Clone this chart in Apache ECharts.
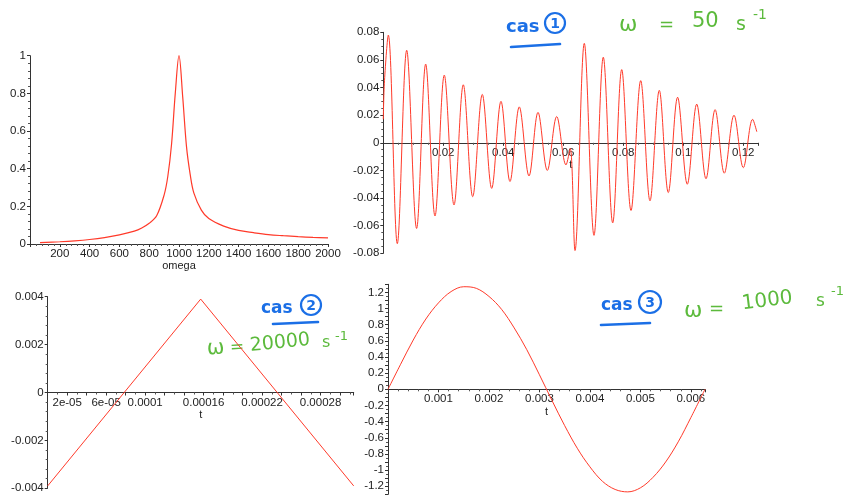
<!DOCTYPE html>
<html>
<head>
<meta charset="utf-8">
<script src="https://cdn.jsdelivr.net/npm/echarts@6/dist/echarts.min.js"></script>
<style>
  html, body { margin: 0; padding: 0; background: #fff; }
  #chart { width: 854px; height: 499px; }
</style>
</head>
<body>
<div id="chart"></div>
<script>
// resonance curve (top left)
const omega = [67, 200, 300, 400, 500, 600, 700, 750, 800, 850, 900, 925, 950, 975, 1000,
  1025, 1050, 1075, 1100, 1150, 1200, 1300, 1400, 1500, 1600, 1700, 1800, 1900, 2000];
const ampl = [0.007, 0.012, 0.017, 0.024, 0.034, 0.048, 0.068, 0.085, 0.11, 0.15, 0.26, 0.36, 0.53, 0.8, 1.0,
  0.78, 0.52, 0.37, 0.27, 0.18, 0.135, 0.095, 0.072, 0.06, 0.05, 0.044, 0.039, 0.035, 0.032];

// cas 1 : w = 50 s-1 (peaks and troughs)
const cas1T = [0, 0.0004, 0.00167, 0.00467, 0.0078, 0.0111, 0.01413, 0.01723, 0.02033, 0.02357,
  0.02667, 0.0298, 0.033, 0.03613, 0.03923, 0.04223, 0.04533, 0.04857, 0.05157, 0.05467,
  0.0578, 0.0609, 0.0623, 0.0639, 0.067, 0.07023, 0.07333, 0.07647, 0.07947, 0.08257,
  0.0858, 0.0889, 0.092, 0.095, 0.0981, 0.10133, 0.10447, 0.10757, 0.1106, 0.11367,
  0.1169, 0.12, 0.1231, 0.1245];
const cas1X = [0.017, 0.045, 0.078, -0.073, 0.067, -0.062, 0.057, -0.053, 0.049, -0.045,
  0.042, -0.039, 0.035, -0.033, 0.030, -0.028, 0.026, -0.024, 0.022, -0.020,
  0.019, -0.016, -0.004, -0.078, 0.072, -0.067, 0.062, -0.058, 0.053, -0.049,
  0.045, -0.042, 0.038, -0.036, 0.033, -0.030, 0.028, -0.026, 0.024, -0.022,
  0.020, -0.018, 0.017, 0.008];

// cas 2 : w = 20000 s-1
const cas2T = [0, 0.000157, 0.000314];
const cas2X = [-0.0039, 0.0039, -0.0039];
const cas2TickVals = [2e-5, 6e-5, 1e-4, 1.6e-4, 2.2e-4, 2.8e-4];
const cas2TickText = ['2e-05', '6e-05', '0.0001', '0.00016', '0.00022', '0.00028'];

// cas 3 : w = 1000 s-1
const cas3T = [0, 0.00025, 0.0005, 0.00075, 0.001, 0.00125, 0.0015, 0.00175, 0.002, 0.00225,
  0.0025, 0.00275, 0.003, 0.00325, 0.0035, 0.00375, 0.004, 0.00425, 0.0045, 0.00475,
  0.005, 0.00525, 0.0055, 0.00575, 0.006, 0.00628];
const cas3X = [0, 0.31, 0.61, 0.87, 1.07, 1.21, 1.27, 1.25, 1.15, 0.99,
  0.76, 0.49, 0.18, -0.14, -0.45, -0.73, -0.96, -1.14, -1.24, -1.27,
  -1.22, -1.09, -0.9, -0.65, -0.35, 0];

const zip = (a, b) => a.map((v, i) => [v, b[i]]);

const red = '#ff3a2a';
const blue = '#1b6fe6';
const green = '#5cba3c';
const txt = '#222';
const font = 'Liberation Sans';

// only label multiples of step, skip the origin
function stepLabels(step) {
  return function (v) {
    const k = v / step;
    const r = Math.round(k);
    if (r === 0 || Math.abs(k - r) > 1e-6) return '';
    return String(parseFloat((r * step).toPrecision(6)));
  };
}

// the x axis sits on y = 0, lift it from the grid bottom by "lift" px
function xAxisOf(grid, min, max, interval, name, nameGap, formatter, minorSplit, lift) {
  return {
    type: 'value', gridIndex: grid, min: min, max: max, interval: interval,
    position: 'bottom', offset: -lift,
    name: name, nameLocation: 'middle', nameGap: nameGap,
    nameTextStyle: { color: txt, fontFamily: font, fontSize: 11 },
    axisLine: { onZero: false, lineStyle: { color: '#333', width: 1 } },
    axisTick: { show: true, length: 3, lineStyle: { color: '#333' } },
    minorTick: { show: true, splitNumber: minorSplit, length: 2, lineStyle: { color: '#555' } },
    splitLine: { show: false },
    axisLabel: { color: txt, fontFamily: font, fontSize: 11.5, margin: 4, formatter: formatter }
  };
}

function yAxisOf(grid, min, max, interval, formatter, minorSplit) {
  return {
    type: 'value', gridIndex: grid, min: min, max: max, interval: interval,
    axisLine: { show: true, onZero: false, lineStyle: { color: '#333', width: 1 } },
    axisTick: { show: true, length: 3, lineStyle: { color: '#333' } },
    minorTick: { show: true, splitNumber: minorSplit, length: 2, lineStyle: { color: '#555' } },
    splitLine: { show: false },
    axisLabel: { color: txt, fontFamily: font, fontSize: 11.5, margin: 4, formatter: formatter }
  };
}

function cas2Label(v) {
  for (let i = 0; i < cas2TickVals.length; i++) {
    if (Math.abs(v - cas2TickVals[i]) < 1e-9) return cas2TickText[i];
  }
  return '';
}

function cas3YLabel(v) {
  const k = Math.round(v * 10);
  if (k % 2 !== 0) return '';
  return String(k / 10);
}

function lineSeries(x, y, data, width, smooth) {
  return {
    type: 'line', xAxisIndex: x, yAxisIndex: y, data: data,
    showSymbol: false, smooth: smooth, animation: false,
    lineStyle: { color: red, width: width }
  };
}

// handwritten notes
function note(text, x, y, size, color, rot, weight) {
  return {
    type: 'text', x: x, y: y, rotation: rot || 0,
    style: { text: text, fill: color, font: (weight || 'normal') + ' ' + size + 'px "DejaVu Sans"', textVerticalAlign: 'middle' }
  };
}
function circled(d, cx, cy, r) {
  return [
    { type: 'circle', shape: { cx: cx, cy: cy, r: r }, style: { fill: 'none', stroke: blue, lineWidth: 2.2 } },
    { type: 'text', x: cx, y: cy + 1, style: { text: d, fill: blue, font: 'bold 14px "DejaVu Sans"', textAlign: 'center', textVerticalAlign: 'middle' } }
  ];
}
function stroke(x1, y1, x2, y2) {
  return { type: 'line', shape: { x1: x1, y1: y1, x2: x2, y2: y2 }, style: { stroke: blue, lineWidth: 2.6, lineCap: 'round' } };
}

const graphic = [
  // cas 1
  note('cas', 506, 27, 18, blue, 0, 'bold'),
  ...circled('1', 555, 23, 10),
  stroke(511, 47, 560, 44),
  note('ω', 619, 25, 22, green),
  note('=', 659, 25, 18, green),
  note('50', 692, 22, 21, green),
  note('s', 736, 25, 19, green),
  note('-1', 753, 15, 14, green),
  // cas 2
  note('cas', 261, 309, 17, blue, 0, 'bold'),
  ...circled('2', 311, 305, 10),
  stroke(273, 324, 318, 322),
  note('ω', 207, 349, 21, green, 0.06),
  note('=', 230, 348, 17, green, 0.06),
  note('20000', 250, 346, 19, green, 0.1),
  note('s', 322, 343, 16, green),
  note('-1', 335, 337, 13, green),
  // cas 3
  note('cas', 601, 306, 17, blue, 0, 'bold'),
  ...circled('3', 650, 302, 11),
  stroke(601, 325, 650, 323),
  note('ω', 684, 311, 22, green),
  note('=', 709, 309, 18, green),
  note('1000', 742, 304, 20, green, 0.12),
  note('s', 816, 302, 17, green),
  note('-1', 831, 292, 13, green)
];

const chart = echarts.init(document.getElementById('chart'));
chart.setOption({
  backgroundColor: '#fff',
  animation: false,
  grid: [
    { left: 30, top: 55.7, width: 298, height: 188.3 },
    { left: 383.3, top: 32.3, width: 375, height: 221 },
    { left: 47.7, top: 296.7, width: 306, height: 191.6 },
    { left: 388, top: 284.3, width: 317, height: 210 }
  ],
  xAxis: [
    xAxisOf(0, 0, 2000, 200, 'omega', 13, stepLabels(200), 5, 0),
    xAxisOf(1, 0, 0.125, 0.02, 't', 6, stepLabels(0.02), 4, 110.5),
    xAxisOf(2, 0, 0.000314, 2e-5, 't', 13, cas2Label, 2, 95.8),
    xAxisOf(3, 0, 0.00628, 0.001, 't', 12, stepLabels(0.001), 5, 105)
  ],
  yAxis: [
    yAxisOf(0, 0, 1, 0.2, null, 5),
    yAxisOf(1, -0.08, 0.08, 0.02, null, 4),
    yAxisOf(2, -0.004, 0.004, 0.002, null, 5),
    yAxisOf(3, -1.3, 1.3, 0.1, cas3YLabel, 2)
  ],
  series: [
    lineSeries(0, 0, zip(omega, ampl), 1.2, 0.35),
    lineSeries(1, 1, zip(cas1T, cas1X), 1, 0.35),
    lineSeries(2, 2, zip(cas2T, cas2X), 1, false),
    lineSeries(3, 3, zip(cas3T, cas3X), 1, 0.35)
  ],
  graphic: graphic
});
</script>
</body>
</html>
